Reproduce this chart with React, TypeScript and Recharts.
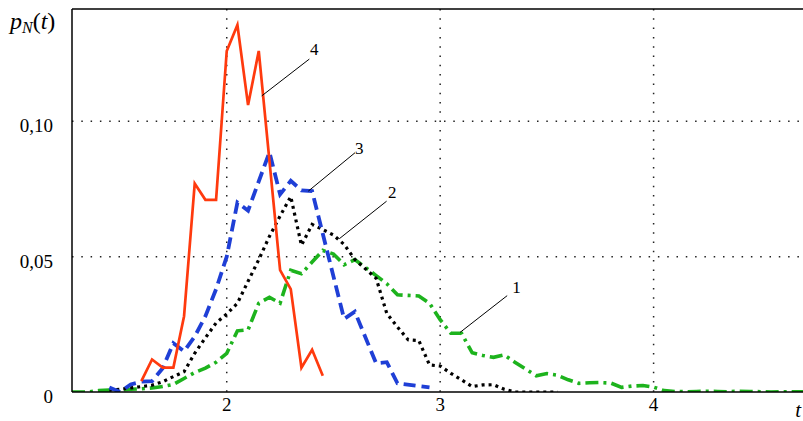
import React from 'react';
import { LineChart, Line, XAxis, YAxis, CartesianGrid, ReferenceLine, ReferenceDot } from 'recharts';

// Series 1 (green, dash-dot)
const t1 = [1.275, 1.3, 1.35, 1.4, 1.45, 1.5, 1.55, 1.6, 1.65, 1.7, 1.75, 1.8, 1.85, 1.9, 1.95, 2.0, 2.05, 2.1, 2.15, 2.2, 2.25, 2.3, 2.35, 2.4, 2.45, 2.5, 2.55, 2.6, 2.65, 2.7, 2.75, 2.8, 2.85, 2.9, 2.95, 3.0, 3.05, 3.1, 3.15, 3.2, 3.25, 3.3, 3.35, 3.4, 3.45, 3.5, 3.55, 3.6, 3.65, 3.7, 3.75, 3.8, 3.85, 3.9, 3.95, 4.0, 4.05, 4.1, 4.15, 4.2, 4.25, 4.3, 4.35, 4.4, 4.45, 4.5, 4.55, 4.6, 4.65, 4.7];
const p1 = [0, 0, 0, 0.0005, 0.0007, 0.0007, 0.001, 0.0012, 0.0015, 0.002, 0.0028, 0.005, 0.0072, 0.0088, 0.011, 0.0143, 0.0226, 0.023, 0.0328, 0.035, 0.0328, 0.045, 0.0437, 0.048, 0.0523, 0.051, 0.047, 0.0489, 0.046, 0.043, 0.04, 0.0359, 0.0357, 0.0355, 0.0328, 0.0267, 0.0217, 0.0217, 0.0145, 0.0135, 0.0128, 0.0137, 0.011, 0.0085, 0.006, 0.0068, 0.0062, 0.0045, 0.0032, 0.0034, 0.0035, 0.0033, 0.0017, 0.0022, 0.0024, 0.0018, 0.0005, 0.0002, 0.0001, 0.0002, 0.0003, 0.0002, 0.0001, 0.0003, 0.0002, 0.0001, 0, 0.0001, 0.0001, 0.0001];

// Series 2 (black, dotted)
const t2 = [1.45, 1.5, 1.55, 1.6, 1.65, 1.7, 1.75, 1.8, 1.85, 1.9, 1.95, 2.0, 2.05, 2.1, 2.15, 2.2, 2.25, 2.3, 2.35, 2.4, 2.45, 2.5, 2.55, 2.6, 2.65, 2.7, 2.75, 2.8, 2.85, 2.9, 2.95, 3.0, 3.05, 3.1, 3.15, 3.2, 3.25, 3.3, 3.35, 3.4, 3.45, 3.5, 3.55];
const p2 = [0.0007, 0.001, 0.0015, 0.002, 0.0025, 0.0038, 0.0057, 0.0075, 0.0143, 0.02, 0.0255, 0.0288, 0.0328, 0.0409, 0.0489, 0.0575, 0.065, 0.0722, 0.0542, 0.0619, 0.06, 0.058, 0.0545, 0.049, 0.0455, 0.042, 0.029, 0.024, 0.0193, 0.019, 0.01, 0.0096, 0.0069, 0.0045, 0.002, 0.0026, 0.0027, 0.001, 0, 0, 0, 0, 0];

// Series 3 (blue, dashed)
const t3 = [1.45, 1.5, 1.55, 1.6, 1.65, 1.7, 1.75, 1.8, 1.85, 1.9, 1.95, 2.0, 2.05, 2.1, 2.2, 2.25, 2.3, 2.35, 2.4, 2.55, 2.6, 2.7, 2.75, 2.8, 2.95];
const p3 = [0.0017, 0, 0.0028, 0.0038, 0.004, 0.0088, 0.018, 0.015, 0.0205, 0.028, 0.038, 0.05, 0.07, 0.067, 0.0886, 0.073, 0.078, 0.0745, 0.0742, 0.027, 0.0297, 0.0106, 0.011, 0.0032, 0.0017];

// Series 4 (red, solid)
const t4 = [1.6, 1.65, 1.7, 1.75, 1.8, 1.85, 1.9, 1.95, 2.0, 2.05, 2.1, 2.15, 2.25, 2.3, 2.35, 2.4, 2.45];
const p4 = [0.004, 0.012, 0.009, 0.009, 0.028, 0.077, 0.071, 0.071, 0.126, 0.1356, 0.106, 0.126, 0.045, 0.038, 0.009, 0.0156, 0.006];

// Curve labels with leader lines
const curveLabels = ['1', '2', '3', '4'];
const leaderStartT = [3.093, 2.527, 2.382, 2.164];
const leaderStartP = [0.022, 0.0566, 0.0742, 0.1094];
const leaderEndT = [3.314, 2.749, 2.601, 2.387];
const leaderEndP = [0.0356, 0.0705, 0.0884, 0.123];
const labelT = [3.358, 2.776, 2.621, 2.41];
const labelP = [0.0384, 0.0735, 0.0898, 0.1262];

const xTicks = [2, 3, 4];
const yTicks = [0, 0.05, 0.1];
const yTickLabels = ['0', '0,05', '0,10'];
const xDomain = [1.275, 4.7];
const yDomain = [0, 0.1415];

const toData = (ts: number[], ps: number[]) => ts.map((t, i) => ({ t, p: ps[i] }));
const s1 = toData(t1, p1);
const s2 = toData(t2, p2);
const s3 = toData(t3, p3);
const s4 = toData(t4, p4);

const FONT = 'Liberation Serif';
const fontStyle = (size: number, italic = false): React.CSSProperties => ({
  fontFamily: FONT,
  fontSize: size,
  fontStyle: italic ? 'italic' : 'normal',
});

const YTick = (props: any) => {
  const { x, y, payload } = props;
  const idx = yTicks.indexOf(payload.value);
  return (
    <text x={x} y={y} dy={11} textAnchor="end" style={fontStyle(19)} fill="#000">
      {idx >= 0 ? yTickLabels[idx] : String(payload.value)}
    </text>
  );
};

const XTick = (props: any) => {
  const { x, y, payload } = props;
  return (
    <text x={x} y={y} dy={13} textAnchor="middle" style={fontStyle(19)} fill="#000">
      {String(payload.value)}
    </text>
  );
};

const CurveLabel = (props: any) => {
  const { viewBox, value } = props;
  const cx = viewBox.x + (viewBox.width || 0) / 2;
  const cy = viewBox.y + (viewBox.height || 0) / 2;
  return (
    <text x={cx} y={cy} dy={5} textAnchor="middle" style={fontStyle(17)} fill="#000">
      {value}
    </text>
  );
};

export default function App() {
  return (
    <div style={{ position: 'absolute', left: 0, top: 0, width: 803, height: 421, background: '#fff' }}>
      <LineChart width={803} height={421} margin={{ top: 9, right: 0, bottom: 0, left: 0 }}>
        <CartesianGrid
          stroke="#222"
          strokeWidth={1.5}
          strokeDasharray="1.5 7.8"
          horizontalValues={[0.05, 0.1]}
          verticalValues={xTicks}
        />
        <XAxis
          dataKey="t"
          type="number"
          domain={xDomain}
          ticks={xTicks}
          allowDataOverflow
          height={29}
          tickSize={0}
          tickMargin={6}
          tickLine={false}
          axisLine={{ stroke: '#000', strokeWidth: 1.5 }}
          tick={<XTick />}
        />
        <YAxis
          type="number"
          domain={yDomain}
          ticks={yTicks}
          allowDataOverflow
          width={72}
          tickSize={0}
          tickMargin={19}
          tickLine={false}
          axisLine={{ stroke: '#000', strokeWidth: 1.5 }}
          tick={<YTick />}
        />
        <ReferenceLine y={yDomain[1]} stroke="#000" strokeWidth={1.5} />
        <Line data={s1} dataKey="p" type="linear" dot={false} stroke="#1db31d" strokeWidth={3.6} strokeDasharray="13 5 3 5" isAnimationActive={false} />
        <Line data={s2} dataKey="p" type="linear" dot={false} stroke="#000" strokeWidth={3.2} strokeDasharray="3 4" isAnimationActive={false} />
        <Line data={s3} dataKey="p" type="linear" dot={false} stroke="#1f3fd6" strokeWidth={3.8} strokeDasharray="12 6" isAnimationActive={false} />
        <Line data={s4} dataKey="p" type="linear" dot={false} stroke="#ff3a0e" strokeWidth={2.7} isAnimationActive={false} />
        {curveLabels.map((lab, i) => (
          <ReferenceLine
            key={'l' + lab}
            segment={[{ x: leaderStartT[i], y: leaderStartP[i] }, { x: leaderEndT[i], y: leaderEndP[i] }]}
            stroke="#000"
            strokeWidth={1}
          />
        ))}
        {curveLabels.map((lab, i) => (
          <ReferenceDot
            key={'d' + lab}
            x={labelT[i]}
            y={labelP[i]}
            r={0}
            fill="none"
            stroke="none"
            label={<CurveLabel value={lab} />}
          />
        ))}
        <text x={10} y={29} style={fontStyle(24)} fill="#000">
          <tspan style={{ fontStyle: 'italic' }}>p</tspan>
          <tspan style={{ fontStyle: 'italic', fontSize: 16 }} dy={4}>N</tspan>
          <tspan dy={-4}>(</tspan>
          <tspan style={{ fontStyle: 'italic' }}>t</tspan>
          <tspan>)</tspan>
        </text>
        <text x={801} y={417} textAnchor="end" style={fontStyle(21, true)} fill="#000">t</text>
      </LineChart>
    </div>
  );
}
